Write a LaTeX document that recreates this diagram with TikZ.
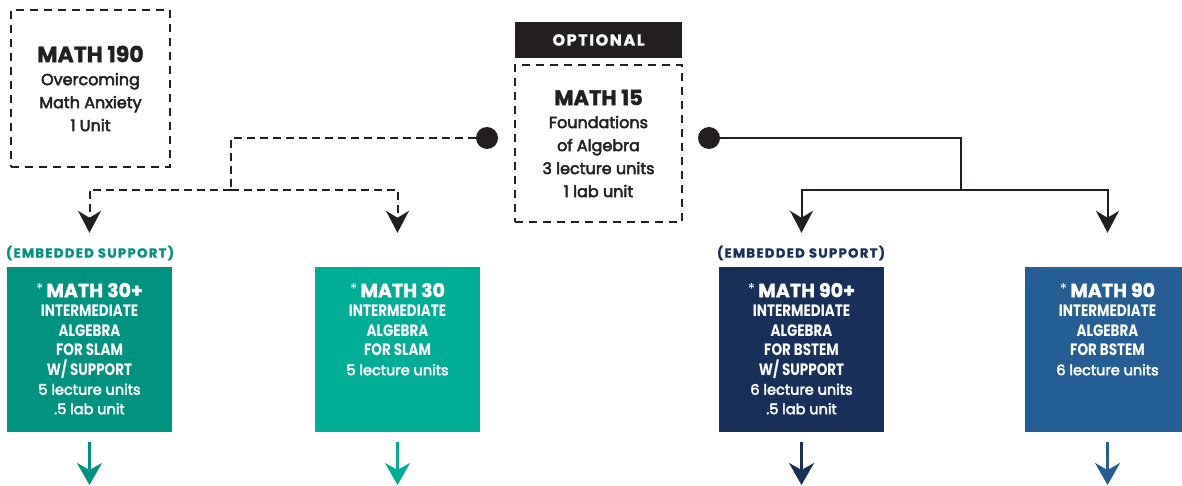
\documentclass[tikz,border=0pt]{standalone}
\usepackage{fontspec}
\setmainfont{Poppins}
\newfontfamily\med{Poppins}[FakeBold=3]
\newfontfamily\heavy{Poppins}[FakeBold=1.5]
\newfontfamily\cond{Poppins}[FakeStretch=0.82]
\newfontfamily\wide{Poppins}[LetterSpace=10,FakeBold=1]
\usetikzlibrary{arrows.meta,calc}
\definecolor{tealA}{RGB}{0,146,128}
\definecolor{tealB}{RGB}{0,174,152}
\definecolor{navyA}{RGB}{22,48,90}
\definecolor{blueB}{RGB}{36,94,146}
\definecolor{ink}{RGB}{35,31,32}
\tikzset{
  dbox/.style={draw=ink, line width=2.5pt, dash pattern=on 8pt off 6pt, minimum height=157pt, align=center, inner sep=0pt, text=ink, font=\med\mdseries\fontsize{16}{23}\selectfont},
  dot/.style={circle, fill=ink, minimum size=22pt, inner sep=0pt},
  dconn/.style={draw=ink, line width=2pt, dash pattern=on 8pt off 5pt},
  sconn/.style={draw=ink, line width=2pt},
  tip/.style={-{Stealth[length=22pt,width=23pt,inset=7pt]}, shorten >=34pt},
  cbox/.style={minimum width=165pt, minimum height=165pt, inner sep=0pt},
  ctext/.style={anchor=north, align=center, text=white, inner sep=0pt, font=\cond\bfseries\fontsize{16.5}{19.5}\selectfont},
  carrow/.style={line width=2.5pt, -{Stealth[length=22pt,width=25pt,inset=7pt]}, shorten <=10pt},
  emb/.style={font=\wide\bfseries\fontsize{13.2}{14}\selectfont, inner sep=0pt},
}
\newcommand{\hd}[1]{{\heavy\bfseries\fontsize{19}{19.5}\selectfont\raisebox{3pt}{\normalfont\mdseries\fontsize{15}{15}\selectfont *}\,#1}}
\newcommand{\lu}[1]{{\med\mdseries\fontsize{14.5}{17}\selectfont #1}}
\begin{document}
\begin{tikzpicture}[x=1pt,y=-1pt]
\useasboundingbox (0,0) rectangle (1182,486);
% top boxes
\node[dbox, minimum width=159pt] (m190) at (90.5,88.5) {{\heavy\bfseries\fontsize{22}{23}\selectfont MATH 190}\\Overcoming\\Math Anxiety\\1 Unit};
\node[fill=ink, minimum width=167pt, minimum height=36pt, inner sep=0pt, text=white, font=\wide\bfseries\fontsize{16}{16}\selectfont] (opt) at (598.5,40) {OPTIONAL};
\node[dbox, minimum width=167pt] (m15) at (598.5,143.5) {{\heavy\bfseries\fontsize{21}{22}\selectfont MATH 15}\\Foundations\\of Algebra\\3 lecture units\\1 lab unit};
\node[dot] (dotL) at (487,138) {};
\node[dot] (dotR) at (709,138) {};
\coordinate (jL) at (231,190);
\coordinate (jR) at (961,190);
% bottom boxes
\node[cbox, fill=tealA] (b1) at (89.5,349.5) {};
\node[cbox, fill=tealB] (b2) at (397.5,349.5) {};
\node[cbox, fill=navyA] (b3) at (801.5,349.5) {};
\node[cbox, fill=blueB] (b4) at (1107.5,349.5) {};
\node[emb, text=tealA] (e1) at (90,253) {(EMBEDDED SUPPORT)};
\node[emb, text=navyA] (e3) at (801,253) {(EMBEDDED SUPPORT)};
\node[ctext] (t1) at ($(b1.north)+(0,16)$) {\hd{MATH 30+}\\INTERMEDIATE\\ALGEBRA\\FOR SLAM\\W/ SUPPORT\\\lu{5 lecture units}\\\lu{.5 lab unit}};
\node[ctext] (t2) at ($(b2.north)+(0,16)$) {\hd{MATH 30}\\INTERMEDIATE\\ALGEBRA\\FOR SLAM\\\lu{5 lecture units}};
\node[ctext] (t3) at ($(b3.north)+(0,16)$) {\hd{MATH 90+}\\INTERMEDIATE\\ALGEBRA\\FOR BSTEM\\W/ SUPPORT\\\lu{6 lecture units}\\\lu{.5 lab unit}};
\node[ctext] (t4) at ($(b4.north)+(0,16)$) {\hd{MATH 90}\\INTERMEDIATE\\ALGEBRA\\FOR BSTEM\\\lu{6 lecture units}};
% connectors
\draw[dconn] (dotL) -| (jL);
\draw[dconn, tip] (jL) -| (b1.north);
\draw[dconn, tip] (jL) -| (b2.north);
\draw[sconn] (dotR) -| (jR);
\draw[sconn, tip] (jR) -| (b3.north);
\draw[sconn, tip] (jR) -| (b4.north);
% outgoing arrows
\coordinate (o1) at (89.5,485);
\coordinate (o2) at (397.5,485);
\coordinate (o3) at (801.5,485);
\coordinate (o4) at (1107.5,485);
\draw[carrow, tealA] (b1.south) -- (o1);
\draw[carrow, tealB] (b2.south) -- (o2);
\draw[carrow, navyA] (b3.south) -- (o3);
\draw[carrow, blueB] (b4.south) -- (o4);
\end{tikzpicture}
\end{document}
